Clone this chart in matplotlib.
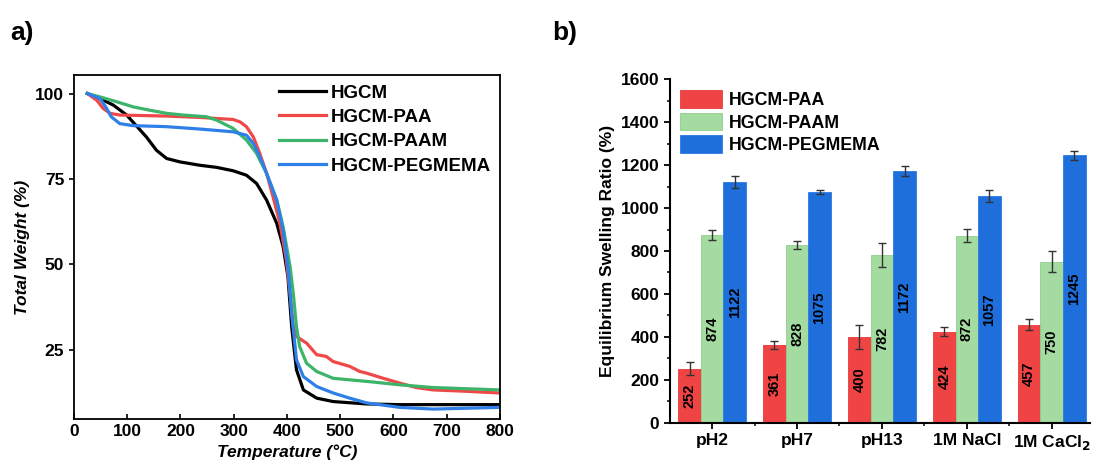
import matplotlib.pyplot as plt
import numpy as np

plt.rcParams['font.family'] = ['Liberation Sans', 'DejaVu Sans']
plt.rcParams['font.weight'] = 'bold'

# TGA curves (temperature in C, weight in %)
t_hgcm = [25, 49, 74, 99, 136, 155, 174, 199, 237, 268, 299, 324, 343, 362, 381, 393, 402, 409, 418, 431, 456, 487, 550, 612, 700, 800]
w_hgcm = [100, 98.5, 96.6, 93.7, 87.3, 83.4, 81, 80, 79, 78.4, 77.4, 76.1, 73.7, 68.8, 62, 55.2, 46.4, 31.8, 19.2, 13.3, 10.9, 9.9, 9.2, 9.0, 9.0, 9.0]

t_paa = [25, 43, 55, 68, 86, 174, 237, 299, 312, 324, 337, 349, 362, 374, 387, 399, 406, 412, 418, 437, 456, 474, 487, 518, 537, 550, 581, 612, 643, 675, 737, 800]
w_paa = [100, 98, 95.6, 94.2, 93.7, 93.4, 93, 92.4, 91.7, 90.3, 87.3, 82.5, 76.6, 69.8, 62, 51.3, 41.6, 31.8, 28.9, 27, 23.6, 23.1, 21.6, 20.2, 18.7, 18.2, 16.7, 15.3, 14, 13.3, 12.9, 12.4]

t_paam = [25, 49, 80, 111, 143, 174, 205, 249, 268, 299, 324, 343, 362, 381, 393, 406, 412, 418, 424, 437, 456, 487, 550, 612, 675, 800]
w_paam = [100, 99, 97.6, 96.1, 95.1, 94.2, 93.7, 93.2, 92.2, 89.8, 86.4, 82.5, 76.6, 68.8, 61, 49.4, 41.6, 31.8, 26, 21.1, 18.7, 16.7, 15.8, 14.8, 14, 13.3]

t_peg = [25, 49, 60, 70, 86, 111, 174, 237, 299, 324, 337, 349, 362, 381, 393, 402, 409, 418, 431, 456, 487, 518, 550, 612, 675, 800]
w_peg = [100, 98.5, 96, 93.2, 91.2, 90.6, 90.3, 89.6, 88.8, 87.8, 85.4, 81.5, 76.6, 68.8, 60, 49.4, 35.7, 22.1, 17.2, 14.3, 12.4, 10.9, 9.5, 8.2, 7.7, 8.2]

# swelling ratio bars
conditions = ['pH2', 'pH7', 'pH13', '1M NaCl', '1M CaCl$_\\mathbf{2}$']
paa = [252, 361, 400, 424, 457]
paam = [874, 828, 782, 872, 750]
peg = [1122, 1075, 1172, 1057, 1245]
paa_err = [31, 18, 55, 21, 24]
paam_err = [24, 17, 55, 30, 49]
peg_err = [27, 8, 24, 29, 23]

fig = plt.figure(figsize=(10.96, 4.72), dpi=100)

# ---- a) TGA
ax1 = fig.add_axes([0.0675, 0.1123, 0.3885, 0.7287])
ax1.plot(t_hgcm, w_hgcm, color='black', lw=2.3, label='HGCM')
ax1.plot(t_paa, w_paa, color='#f04848', lw=2.3, label='HGCM-PAA')
ax1.plot(t_paam, w_paam, color='#3cb46a', lw=2.3, label='HGCM-PAAM')
ax1.plot(t_peg, w_peg, color='#2f7fe8', lw=2.3, label='HGCM-PEGMEMA')
ax1.set_xlim(0, 800)
ax1.set_ylim(4.8, 105.4)
ax1.set_xticks(np.arange(0, 801, 100))
ax1.set_yticks([25, 50, 75, 100])
ax1.tick_params(axis='x', direction='in', labelsize=12.5, width=1.2)
ax1.tick_params(axis='y', direction='out', labelsize=12.5, width=1.2)
for s in ax1.spines.values():
    s.set_linewidth(1.3)
ax1.set_xlabel('Temperature (°C)', fontsize=12.5, fontstyle='italic', fontweight='bold')
ax1.set_ylabel('Total Weight (%)', fontsize=12.5, fontstyle='italic', fontweight='bold')
ax1.legend(loc='upper right', bbox_to_anchor=(1.0, 1.0), frameon=False, fontsize=13.5,
           handlelength=2.5, labelspacing=0.39, handletextpad=0.25, borderaxespad=0.1)

# ---- b) swelling
ax2 = fig.add_axes([0.611, 0.1045, 0.3835, 0.7275])
x = np.arange(len(conditions))
bw = 0.266
ekw = dict(ecolor='#333333', elinewidth=1, capsize=3, capthick=1)
b1 = ax2.bar(x - bw, paa, bw, yerr=paa_err, color='#f04444', edgecolor='#e83a3a', lw=0.6,
             label='HGCM-PAA', error_kw=ekw)
b2 = ax2.bar(x, paam, bw, yerr=paam_err, color='#a3dba0', edgecolor='#8fd08c', lw=0.6,
             label='HGCM-PAAM', error_kw=ekw)
b3 = ax2.bar(x + bw, peg, bw, yerr=peg_err, color='#1e6fdc', edgecolor='#2a7ae0', lw=0.6,
             label='HGCM-PEGMEMA', error_kw=ekw)
for b in (b1, b2, b3):
    ax2.bar_label(b, label_type='center', rotation=90, fontsize=10.5, fontweight='bold')
ax2.set_xlim(-0.5, 4.45)
ax2.set_ylim(0, 1600)
ax2.set_xticks(x)
ax2.set_xticklabels(conditions)
ax2.set_xticks(x[:-1] + 0.5, minor=True)
ax2.set_yticks(np.arange(0, 1601, 200))
ax2.set_yticks(np.arange(0, 1601, 100), minor=True)
ax2.tick_params(axis='both', which='major', direction='out', labelsize=12.5, width=1.3, length=4)
ax2.tick_params(axis='both', which='minor', direction='out', width=1.1, length=2.5)
ax2.tick_params(axis='x', which='major', labelsize=12.5)
ax2.spines['top'].set_visible(False)
ax2.spines['right'].set_visible(False)
ax2.spines['left'].set_linewidth(1.5)
ax2.spines['bottom'].set_linewidth(1.5)
ax2.set_ylabel('Equilibrium Swelling Ratio (%)', fontsize=12.5, fontweight='bold')
ax2.legend(loc='upper left', bbox_to_anchor=(0.003, 0.995), frameon=False, fontsize=12.8,
           handlelength=2.35, handleheight=1.15, labelspacing=0.22, handletextpad=0.4,
           borderaxespad=0.1)

fig.text(0.009, 0.93, 'a)', fontsize=19, fontweight='bold', va='center')
fig.text(0.504, 0.93, 'b)', fontsize=19, fontweight='bold', va='center')

fig.savefig('out.png', dpi=100)
